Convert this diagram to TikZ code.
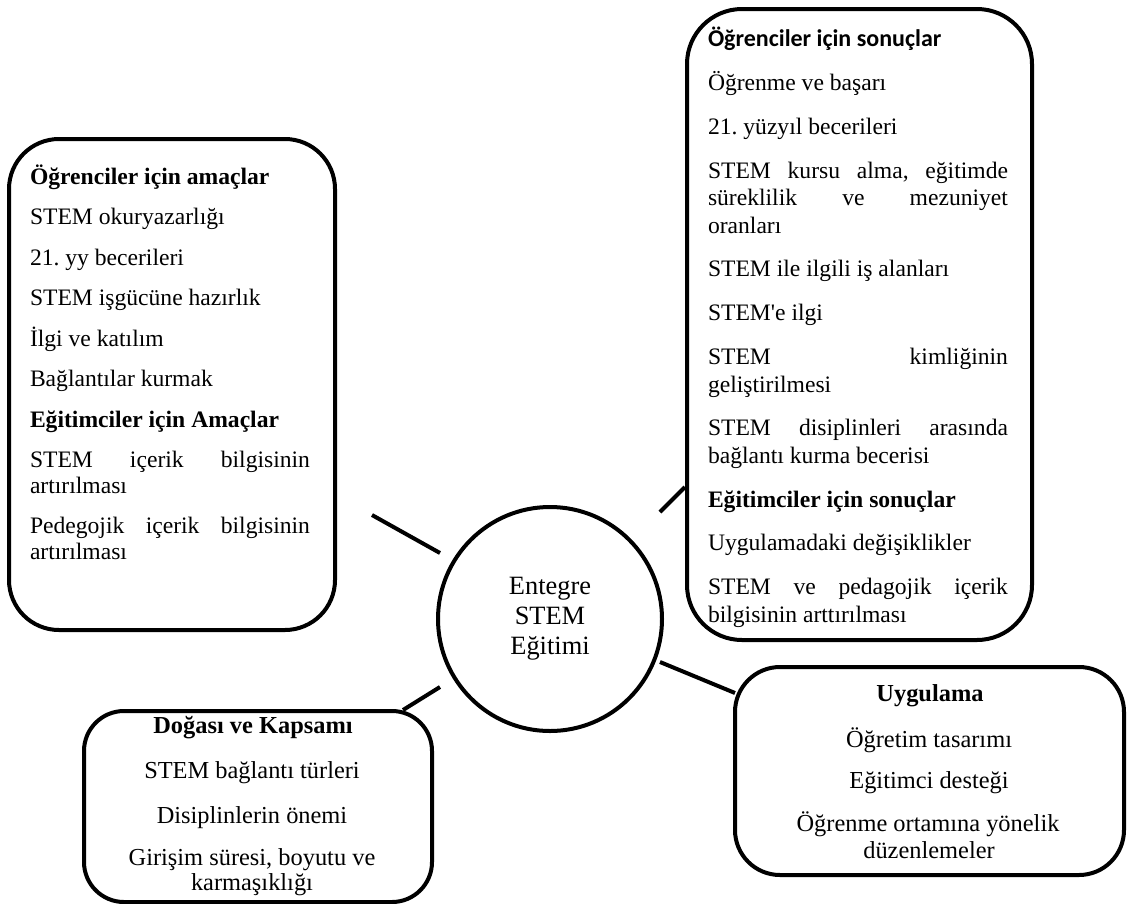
\documentclass[tikz,border=0pt]{standalone}
\usepackage{fontspec}
\setmainfont{Liberation Serif}
\newfontfamily\calibri{Carlito}
\newcommand{\sq}{{\addfontfeature{Ligatures=TeXOff}'}}
\frenchspacing
\begin{document}
\begin{tikzpicture}[x=1pt,y=-1pt,
  box/.style={draw, line width=4pt, rounded corners=#1, inner sep=0pt, anchor=north west},
  txt/.style={inner sep=0pt, outer sep=0pt, font=\fontsize{23.6}{25.7}\selectfont},
  ctxt/.style={inner sep=0pt, outer sep=0pt, anchor=base, font=\fontsize{24.4}{26}\selectfont},
  conn/.style={line width=4pt}]
\fill[white] (0,0) rectangle (1127,903);
\useasboundingbox (0,0) rectangle (1127,903);
% boxes
\node[box=50, minimum width=326, minimum height=491] (lbox) at (7,137) {};
\node[box=55, minimum width=345, minimum height=631] (trbox) at (685,7) {};
\node[box=40, minimum width=348, minimum height=191] (dbox) at (82,709) {};
\node[box=45, minimum width=389, minimum height=208] (ubox) at (733,665) {};
\node[draw, circle, line width=4pt, minimum size=224, inner sep=0pt, align=center,
  font=\fontsize{26.4}{30}\selectfont] (c) at (550,619) {Entegre\\STEM\\Eğitimi};
% left text
\node[txt, text width=280, align=justify, anchor=base west] (ltext) at (30,184)
 {\setlength\parskip{14.8pt}\hyphenpenalty=10000
  \textbf{Öğrenciler için amaçlar}\par
  STEM okuryazarlığı\par
  21. yy becerileri\par
  STEM işgücüne hazırlık\par
  İlgi ve katılım\par
  Bağlantılar kurmak\par
  \textbf{Eğitimciler için Amaçlar}\par
  STEM içerik bilgisinin\linebreak artırılması\par
  Pedegojik içerik bilgisinin\linebreak artırılması\par};
% top right text
\node[txt, text width=300, align=justify, anchor=base west,
  font=\fontsize{23.6}{27.5}\selectfont] (trtext) at (708,46.7)
 {\setlength\parskip{16.3pt}\hyphenpenalty=10000
  {\calibri\bfseries\fontsize{24}{27.5}\selectfont Öğrenciler için sonuçlar}\par
  Öğrenme ve başarı\par
  21. yüzyıl becerileri\par
  STEM kursu alma, eğitimde\linebreak süreklilik ve mezuniyet\linebreak oranları\par
  STEM ile ilgili iş alanları\par
  STEM\sq e ilgi\par
  STEM kimliğinin\linebreak geliştirilmesi\par
  STEM disiplinleri arasında\linebreak bağlantı kurma becerisi\par
  \textbf{Eğitimciler için sonuçlar}\par
  Uygulamadaki değişiklikler\par
  STEM ve pedagojik içerik\linebreak bilgisinin arttırılması\par};
% bottom left text
\node[ctxt] (d1) at (253,733) {\textbf{Doğası ve Kapsamı}};
\node[ctxt] (d2) at (252,778) {STEM bağlantı türleri};
\node[ctxt] (d3) at (252,823) {Disiplinlerin önemi};
\node[ctxt] (d4) at (252,865) {Girişim süresi, boyutu ve};
\node[ctxt] (d5) at (252,890) {karmaşıklığı};
% bottom right text
\node[ctxt] (u1) at (930,701.7) {\textbf{Uygulama}};
\node[ctxt] (u2) at (929,747) {Öğretim tasarımı};
\node[ctxt] (u3) at (929,788) {Eğitimci desteği};
\node[ctxt] (u4) at (928,831.5) {Öğrenme ortamına yönelik};
\node[ctxt] (u5) at (929,858) {düzenlemeler};
% connectors
\coordinate (l1) at (372,515); \coordinate (l2) at (440,553);
\coordinate (r1) at (660,512); \coordinate (r2) at (685,487);
\coordinate (br1) at (660,662); \coordinate (br2) at (735,693);
\coordinate (bl1) at (440,687); \coordinate (bl2) at (403,710);
\draw[conn] (l1) -- (l2);
\draw[conn] (r1) -- (r2);
\draw[conn] (br1) -- (br2);
\draw[conn] (bl1) -- (bl2);
\end{tikzpicture}
\end{document}
